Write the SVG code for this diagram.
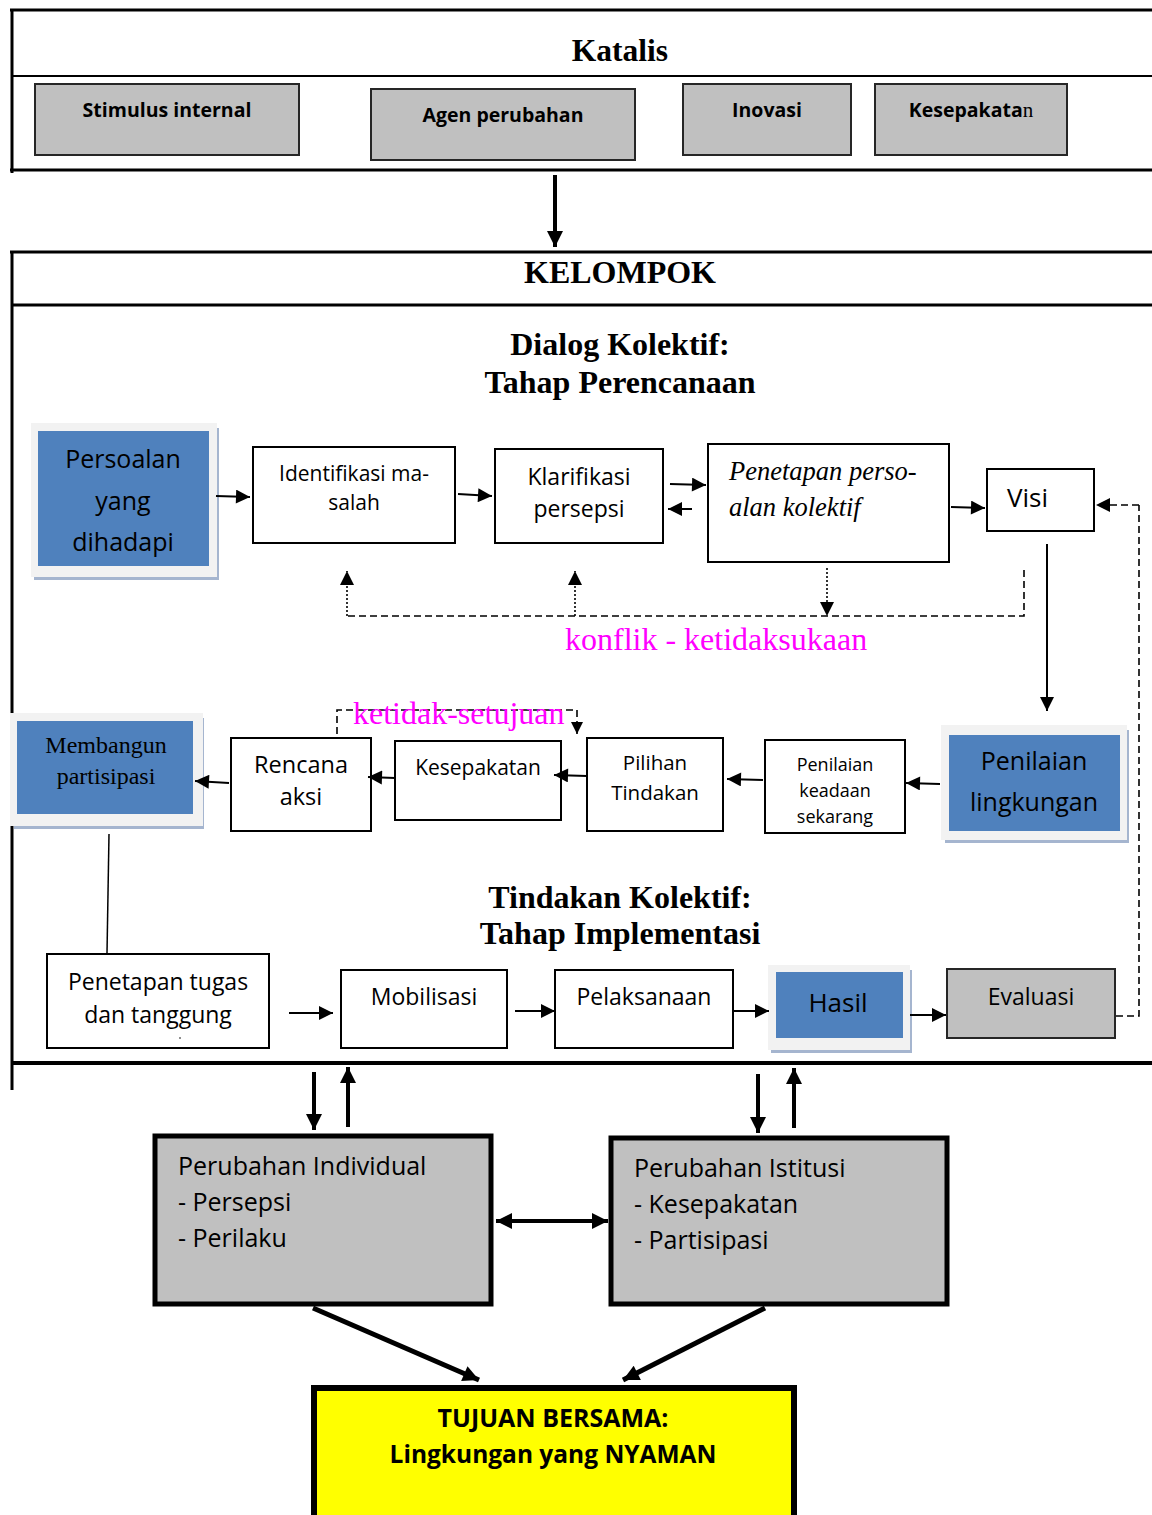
<svg xmlns="http://www.w3.org/2000/svg" width="1152" height="1515" viewBox="0 0 1152 1515">
<defs>
<style>
.frame{fill:none;stroke:#000;stroke-width:3}
.gbox{fill:#c0c0c0;stroke:#262626;stroke-width:2}
.wbox{fill:#fff;stroke:#000;stroke-width:2}
.bbox{fill:#4f81bd;stroke:none}
.bout{fill:#f2f2f2;stroke:none}
.bsh{fill:#a5b5cf;stroke:none}
.tbox{fill:#c0c0c0;stroke:#000;stroke-width:5}
.ybox{fill:#ffff00;stroke:#000;stroke-width:6}
.ser{font-family:"Liberation Serif","Times New Roman",serif}
.sb{font-family:"Liberation Serif","Times New Roman",serif;font-weight:bold;text-anchor:middle}
.sa{font-family:"Open Sans","Noto Sans",sans-serif;fill:#000}
.sab{font-family:"Open Sans","Noto Sans",sans-serif;font-weight:bold;fill:#000}
.mid{text-anchor:middle}
.mag{fill:#ff00ff}
.ln{stroke:#000;stroke-width:2;fill:none}
.thk{stroke:#000;stroke-width:4;fill:none}
.dash{stroke:#000;stroke-width:1.6;fill:none;stroke-dasharray:7,4}
.dot{stroke:#000;stroke-width:1.6;fill:none;stroke-dasharray:2,2}
</style>
<marker id="ah" viewBox="0 0 10 10" refX="10" refY="5" markerWidth="16" markerHeight="14" markerUnits="userSpaceOnUse" orient="auto"><path d="M0,0 L10,5 L0,10 z" fill="#000"/></marker>
<marker id="ahs" viewBox="0 0 10 10" refX="10" refY="5" markerWidth="14" markerHeight="12" markerUnits="userSpaceOnUse" orient="auto"><path d="M0,0 L10,5 L0,10 z" fill="#000"/></marker>
<marker id="ahb" viewBox="0 0 10 10" refX="10" refY="5" markerWidth="20" markerHeight="16" markerUnits="userSpaceOnUse" orient="auto"><path d="M0,0 L10,5 L0,10 z" fill="#000"/></marker>
<marker id="ahbs" viewBox="0 0 10 10" refX="0" refY="5" markerWidth="20" markerHeight="16" markerUnits="userSpaceOnUse" orient="auto"><path d="M10,0 L0,5 L10,10 z" fill="#000"/></marker>
</defs>
<rect x="0" y="0" width="1152" height="1515" fill="#fff"/>

<g id="katalis">
<line x1="10" y1="10" x2="1152" y2="10" class="frame"/>
<line x1="12" y1="10" x2="12" y2="173" class="frame"/>
<line x1="12" y1="76" x2="1152" y2="76" stroke="#000" stroke-width="2"/>
<line x1="10" y1="170" x2="1152" y2="170" class="frame"/>
<text x="620" y="61" class="sb" font-size="31.5">Katalis</text>
</g>
<g id="stimulus"><rect x="35" y="84" width="264" height="71" class="gbox"/><text x="167" y="117" class="sab mid" font-size="19.5">Stimulus internal</text></g>
<g id="agen"><rect x="371" y="89" width="264" height="71" class="gbox"/><text x="503" y="122" class="sab mid" font-size="19.5">Agen perubahan</text></g>
<g id="inovasi"><rect x="683" y="84" width="168" height="71" class="gbox"/><text x="767" y="117" class="sab mid" font-size="19.5">Inovasi</text></g>
<g id="kesepakatan-k"><rect x="875" y="84" width="192" height="71" class="gbox"/><text x="971" y="117" class="sab mid" font-size="19.5">Kesepakata<tspan font-family="Liberation Serif,serif" font-weight="normal" font-size="21">n</tspan></text></g>

<g id="kelompok">
<line x1="10" y1="252" x2="1152" y2="252" class="frame"/>
<line x1="12" y1="252" x2="12" y2="1090" class="frame"/>
<line x1="12" y1="305" x2="1152" y2="305" class="frame"/>
<line x1="12" y1="1063" x2="1152" y2="1063" stroke="#000" stroke-width="4"/>
<text x="620" y="283" class="sb" font-size="32">KELOMPOK</text>
<text x="620" y="355" class="sb" font-size="32">Dialog Kolektif:</text>
<text x="620" y="393" class="sb" font-size="32">Tahap Perencanaan</text>
<text x="620" y="908" class="sb" font-size="32">Tindakan Kolektif:</text>
<text x="620" y="944" class="sb" font-size="32">Tahap Implementasi</text>
</g>

<g id="persoalan">
<rect x="34" y="428" width="185" height="152" class="bsh"/>
<rect x="31" y="423" width="186" height="154" class="bout"/>
<rect x="38" y="431" width="171" height="135" class="bbox"/>
<text x="123" y="468" class="sa mid" font-size="25">Persoalan</text>
<text x="123" y="510" class="sa mid" font-size="25">yang</text>
<text x="123" y="551" class="sa mid" font-size="25">dihadapi</text>
</g>
<g id="identifikasi"><rect x="253" y="447" width="202" height="96" class="wbox"/><text x="354" y="481" class="sa mid" font-size="21">Identifikasi ma-</text><text x="354" y="510" class="sa mid" font-size="21">salah</text></g>
<g id="klarifikasi"><rect x="495" y="449" width="168" height="94" class="wbox"/><text x="579" y="485" class="sa mid" font-size="23">Klarifikasi</text><text x="579" y="517" class="sa mid" font-size="23">persepsi</text></g>
<g id="penetapan"><rect x="708" y="444" width="241" height="118" class="wbox"/><text x="729" y="480" class="ser" font-style="italic" font-size="26.5">Penetapan perso-</text><text x="729" y="516" class="ser" font-style="italic" font-size="26.5">alan kolektif</text></g>
<g id="visi"><rect x="987" y="469" width="107" height="62" class="wbox"/><text x="1007" y="507" class="sa" font-size="26">Visi</text></g>

<g id="penilaian-lingkungan">
<rect x="945" y="730" width="184" height="113" class="bsh"/>
<rect x="941" y="725" width="186" height="115" class="bout"/>
<rect x="949" y="735" width="171" height="96" class="bbox"/>
<text x="1034" y="770" class="sa mid" font-size="25">Penilaian</text>
<text x="1034" y="811" class="sa mid" font-size="25">lingkungan</text>
</g>
<g id="penilaian-keadaan"><rect x="765" y="740" width="140" height="93" class="wbox"/><text x="835" y="771" class="sa mid" font-size="18">Penilaian</text><text x="835" y="797" class="sa mid" font-size="18">keadaan</text><text x="835" y="823" class="sa mid" font-size="18">sekarang</text></g>
<g id="pilihan"><rect x="587" y="738" width="136" height="93" class="wbox"/><text x="655" y="770" class="sa mid" font-size="20.5">Pilihan</text><text x="655" y="800" class="sa mid" font-size="20.5">Tindakan</text></g>
<g id="kesepakatan"><rect x="395" y="741" width="166" height="79" class="wbox"/><text x="478" y="775" class="sa mid" font-size="21">Kesepakatan</text></g>
<g id="rencana"><rect x="231" y="738" width="140" height="93" class="wbox"/><text x="301" y="773" class="sa mid" font-size="23.5">Rencana</text><text x="301" y="805" class="sa mid" font-size="23.5">aksi</text></g>
<g id="membangun">
<rect x="14" y="718" width="190" height="111" class="bsh"/>
<rect x="10" y="713" width="193" height="113" class="bout"/>
<rect x="17" y="721" width="176" height="93" class="bbox"/>
<text x="106" y="753" class="ser mid" font-size="24">Membangun</text>
<text x="106" y="784" class="ser mid" font-size="24">partisipasi</text>
</g>

<g id="penetapan-tugas"><rect x="47" y="954" width="222" height="94" class="wbox"/><text x="158" y="990" class="sa mid" font-size="23">Penetapan tugas</text><text x="158" y="1023" class="sa mid" font-size="23">dan tanggung</text><circle cx="180" cy="1038" r="0.8" fill="#000"/></g>
<g id="mobilisasi"><rect x="341" y="970" width="166" height="78" class="wbox"/><text x="424" y="1005" class="sa mid" font-size="23">Mobilisasi</text></g>
<g id="pelaksanaan"><rect x="555" y="970" width="178" height="78" class="wbox"/><text x="644" y="1005" class="sa mid" font-size="23">Pelaksanaan</text></g>
<g id="hasil">
<rect x="771" y="970" width="141" height="83" class="bsh"/>
<rect x="768" y="965" width="142" height="85" class="bout"/>
<rect x="776" y="972" width="127" height="66" class="bbox"/>
<text x="838" y="1012" class="sa mid" font-size="26">Hasil</text>
</g>
<g id="evaluasi"><rect x="947" y="969" width="168" height="69" class="gbox" stroke="#000"/><text x="1031" y="1005" class="sa mid" font-size="23">Evaluasi</text></g>

<g id="perubahan-individual"><rect x="155" y="1136" width="336" height="168" class="tbox"/>
<text x="178" y="1175" class="sa" font-size="25">Perubahan Individual</text>
<text x="178" y="1211" class="sa" font-size="25">- Persepsi</text>
<text x="178" y="1247" class="sa" font-size="25">- Perilaku</text></g>
<g id="perubahan-istitusi"><rect x="611" y="1138" width="336" height="166" class="tbox"/>
<text x="634" y="1177" class="sa" font-size="25">Perubahan Istitusi</text>
<text x="634" y="1213" class="sa" font-size="25">- Kesepakatan</text>
<text x="634" y="1249" class="sa" font-size="25">- Partisipasi</text></g>
<g id="tujuan"><rect x="314" y="1388" width="480" height="135" class="ybox"/>
<text x="553" y="1427" class="sab mid" font-size="25">TUJUAN BERSAMA:</text>
<text x="553" y="1463" class="sab mid" font-size="24.5">Lingkungan yang NYAMAN</text></g>

<g id="connectors">
<line x1="555" y1="175" x2="555" y2="247" class="thk" marker-end="url(#ahb)"/>
<line x1="216" y1="496" x2="250" y2="497" class="ln" marker-end="url(#ah)"/>
<line x1="458" y1="494" x2="492" y2="496" class="ln" marker-end="url(#ah)"/>
<line x1="670" y1="484" x2="706" y2="485" class="ln" marker-end="url(#ah)"/>
<line x1="692" y1="509" x2="668" y2="509" class="ln" marker-end="url(#ah)"/>
<line x1="951" y1="507" x2="985" y2="508" class="ln" marker-end="url(#ah)"/>
<line x1="1047" y1="544" x2="1047" y2="711" class="ln" marker-end="url(#ah)"/>
<polyline points="1024,570 1024,616 347,616" class="dash"/>
<line x1="347" y1="616" x2="347" y2="571" class="dot" marker-end="url(#ah)"/>
<line x1="575" y1="616" x2="575" y2="571" class="dot" marker-end="url(#ah)"/>
<line x1="827" y1="568" x2="827" y2="616" class="dot" marker-end="url(#ah)"/>
<polyline points="1116,1016 1139,1016 1139,505" class="dash"/>
<line x1="1139" y1="505" x2="1096" y2="505" class="dash" marker-end="url(#ah)"/>
<line x1="940" y1="784" x2="906" y2="783" class="ln" marker-end="url(#ah)"/>
<line x1="763" y1="780" x2="727" y2="779" class="ln" marker-end="url(#ah)"/>
<line x1="587" y1="776" x2="554" y2="775" class="ln" marker-end="url(#ah)"/>
<line x1="395" y1="778" x2="368" y2="777" class="ln" marker-end="url(#ah)"/>
<line x1="229" y1="783" x2="195" y2="781" class="ln" marker-end="url(#ah)"/>
<polyline points="337,734 337,710 577,710 577,734" class="dash" marker-end="url(#ahs)"/>
<line x1="109" y1="834" x2="107" y2="953" stroke="#000" stroke-width="1.5"/>
<line x1="289" y1="1013" x2="333" y2="1013" class="ln" marker-end="url(#ah)"/>
<line x1="515" y1="1011" x2="555" y2="1011" class="ln" marker-end="url(#ah)"/>
<line x1="734" y1="1011" x2="769" y2="1011" class="ln" marker-end="url(#ah)"/>
<line x1="910" y1="1015" x2="946" y2="1015" class="ln" marker-end="url(#ah)"/>
<line x1="314" y1="1072" x2="314" y2="1130" class="thk" marker-end="url(#ahb)"/>
<line x1="348" y1="1127" x2="348" y2="1067" class="thk" marker-end="url(#ahb)"/>
<line x1="758" y1="1074" x2="758" y2="1133" class="thk" marker-end="url(#ahb)"/>
<line x1="794" y1="1128" x2="794" y2="1068" class="thk" marker-end="url(#ahb)"/>
<line x1="496" y1="1221" x2="608" y2="1221" class="thk" marker-start="url(#ahbs)" marker-end="url(#ahb)"/>
<line x1="313" y1="1308" x2="479" y2="1380" stroke="#000" stroke-width="5" marker-end="url(#ahb)"/>
<line x1="765" y1="1308" x2="623" y2="1380" stroke="#000" stroke-width="5" marker-end="url(#ahb)"/>
</g>
<text x="565" y="650" class="ser mag" font-size="32">konflik - ketidaksukaan</text>
<text x="353" y="724" class="ser mag" font-size="32">ketidak-setujuan</text>
</svg>
